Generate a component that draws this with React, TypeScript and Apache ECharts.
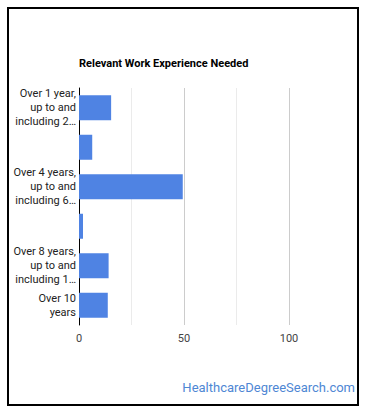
import React, { useEffect, useRef } from "react";
import * as echarts from "echarts";

const categories = [
  "Over 1 year, up to and including 2 years",
  "Over 2 years, up to and including 4 years",
  "Over 4 years, up to and including 6 years",
  "Over 6 years, up to and including 8 years",
  "Over 8 years, up to and including 10 years",
  "Over 10 years",
];
const tickLabels = [
  "Over 1 year,\nup to and\nincluding 2…",
  "",
  "Over 4 years,\nup to and\nincluding 6…",
  "",
  "Over 8 years,\nup to and\nincluding 1…",
  "Over 10\nyears",
];
const values = [15.3, 6.3, 49.4, 1.9, 14.1, 13.7];
const xTicks = [0, 50, 100];
const titleText = "Relevant Work Experience Needed";
const watermark = "HealthcareDegreeSearch.com";

export default function App() {
  const ref = useRef<HTMLDivElement>(null);
  useEffect(() => {
    const chart = echarts.init(ref.current!, null, { renderer: "svg" });
    chart.setOption({
      animation: false,
      textStyle: { fontFamily: "Roboto" },
      title: {
        text: titleText,
        left: 79,
        top: 58,
        padding: 0,
        textStyle: { fontSize: 11, fontWeight: "bold", color: "#000", fontFamily: "Roboto" },
      },
      grid: { left: 79, top: 88, width: 210, height: 237, containLabel: false },
      xAxis: {
        type: "value",
        min: 0,
        max: 100,
        interval: 25,
        axisLine: { show: false },
        axisTick: { show: false },
        axisLabel: {
          margin: 8,
          fontSize: 11,
          color: "#444",
          fontFamily: "Roboto",
          formatter: (v: number) => (xTicks.includes(v) ? String(v) : ""),
        },
        splitLine: { lineStyle: { color: ["#cccccc", "#ebebeb"], width: 1 } },
      },
      yAxis: {
        type: "category",
        inverse: true,
        data: categories,
        axisLine: { show: true, lineStyle: { color: "#000", width: 1 } },
        axisTick: { show: false },
        axisLabel: {
          interval: 0,
          margin: 3,
          fontSize: 11,
          lineHeight: 14,
          color: "#222",
          fontFamily: "Roboto",
          align: "right",
          formatter: (_v: string, i: number) => tickLabels[i],
        },
      },
      series: [
        {
          type: "bar",
          data: values,
          barWidth: 25,
          itemStyle: { color: "#4f83e3" },
        },
      ],
      graphic: [
        {
          type: "rect",
          shape: { x: 8, y: 8, width: 350, height: 397 },
          style: { fill: "none", stroke: "#000", lineWidth: 2 },
          z: 100,
        },
        {
          type: "text",
          right: 15,
          top: 381,
          style: {
            text: watermark,
            fontSize: 13,
            fontFamily: "Roboto",
            fill: "#4e87d4",
          },
        },
      ],
    });
    return () => chart.dispose();
  }, []);
  return (
    <div
      ref={ref}
      style={{ position: "fixed", left: 0, top: 0, width: 370, height: 417, background: "#fff" }}
    />
  );
}
